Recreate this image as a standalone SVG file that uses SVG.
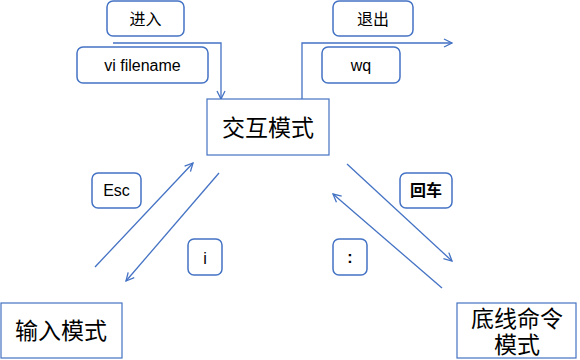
<svg xmlns="http://www.w3.org/2000/svg" width="580" height="360" viewBox="0 0 580 360">
<defs>
<style>
.mode{fill:#fff;stroke:#4472C4;stroke-width:1.2}
.lbl{fill:#fff;stroke:#4472C4;stroke-width:1.5}
.big{font-family:"Noto Sans CJK SC","Liberation Sans",sans-serif;font-size:23px;fill:#000;text-anchor:middle}
.t{font-family:"Liberation Sans","Noto Sans CJK SC",sans-serif;font-size:16px;fill:#000;text-anchor:middle}
.conn{fill:none;stroke:#4472C4;stroke-width:1.3}
</style>
<marker id="arr" viewBox="0 0 10 10" refX="9" refY="5" markerWidth="10" markerHeight="10" markerUnits="userSpaceOnUse" orient="auto">
<path d="M1,1 L9,5 L1,9" fill="none" stroke="#4472C4" stroke-width="1.3"/>
</marker>
</defs>
<rect width="580" height="360" fill="#fff"/>
<g id="connectors">
<path class="conn" d="M113,43 H221 V99" marker-end="url(#arr)"/>
<path class="conn" d="M302,99 V43 H452" marker-end="url(#arr)"/>
<path class="conn" d="M95,267 L193,163" marker-end="url(#arr)"/>
<path class="conn" d="M219,173 L126,281" marker-end="url(#arr)"/>
<path class="conn" d="M347,164 L452,261" marker-end="url(#arr)"/>
<path class="conn" d="M442,288 L333,194" marker-end="url(#arr)"/>
</g>
<g id="interactive">
<rect class="mode" x="207" y="99" width="122" height="56" stroke="#4d5f80"/>
<text class="big" x="268" y="136">交互模式</text>
</g>
<g id="insert">
<rect class="mode" x="1" y="303" width="121" height="55"/>
<text class="big" x="61" y="339">输入模式</text>
</g>
<g id="cmdline">
<rect class="mode" x="457" y="303" width="119" height="55"/>
<text class="big" x="517" y="327" font-size="22">底线命令<tspan x="517" dy="26">模式</tspan></text>
</g>
<g id="lbl-enter">
<rect class="lbl" x="107" y="1" width="77" height="35" rx="6"/>
<text class="t" x="145.5" y="25" font-size="18">进入</text>
</g>
<g id="lbl-vi">
<rect class="lbl" x="77" y="47" width="131" height="36" rx="6"/>
<text class="t" x="142.5" y="71">vi filename</text>
</g>
<g id="lbl-exit">
<rect class="lbl" x="333" y="1" width="80" height="35" rx="6"/>
<text class="t" x="373" y="25" font-size="18">退出</text>
</g>
<g id="lbl-wq">
<rect class="lbl" x="322" y="47" width="78" height="36" rx="6"/>
<text class="t" x="361" y="71">wq</text>
</g>
<g id="lbl-esc">
<rect class="lbl" x="92" y="173" width="49" height="35" rx="6"/>
<text class="t" x="116.5" y="196" font-size="15">Esc</text>
</g>
<g id="lbl-i">
<rect class="lbl" x="188" y="239" width="34" height="36" rx="6"/>
<text class="t" x="205" y="264" font-size="18">i</text>
</g>
<g id="lbl-enterkey">
<rect class="lbl" x="400" y="173" width="52" height="35" rx="6"/>
<text class="t" x="426" y="196" font-size="14" font-weight="bold">回车</text>
</g>
<g id="lbl-colon">
<rect class="lbl" x="333" y="239" width="34" height="36" rx="6"/>
<text class="t" x="350" y="263" font-size="17" font-weight="bold">:</text>
</g>
</svg>
